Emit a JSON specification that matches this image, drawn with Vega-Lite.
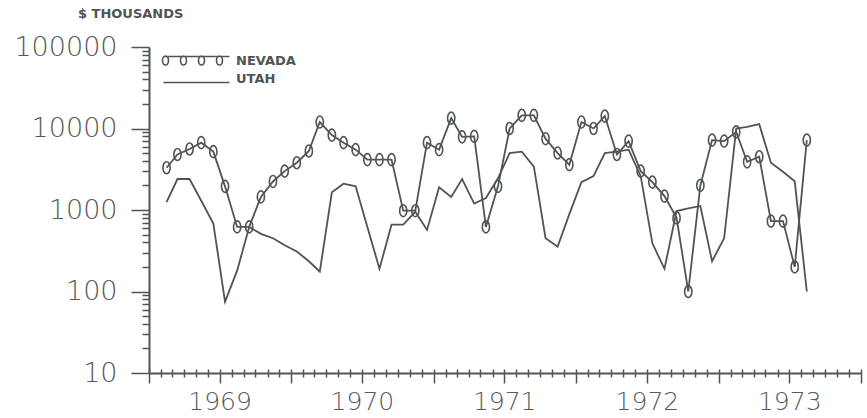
{
  "$schema": "https://vega.github.io/schema/vega-lite/v6.json",
  "width": 712,
  "height": 326,
  "autosize": {"type": "none"},
  "padding": {"left": 149, "top": 47, "right": 6, "bottom": 45},
  "background": "white",
  "config": {"view": {"stroke": null}},
  "title": {"text": "$ THOUSANDS", "anchor": "start", "frame": "group", "dx": -71, "offset": 12, "fontSize": 13, "fontWeight": "bold", "font": "DejaVu Sans", "color": "#4f5454"},
  "data": {"values": [
    {"date": "1969-02-15", "state": "NEVADA", "value": 3300},
    {"date": "1969-03-15", "state": "NEVADA", "value": 4800},
    {"date": "1969-04-15", "state": "NEVADA", "value": 5600},
    {"date": "1969-05-15", "state": "NEVADA", "value": 6700},
    {"date": "1969-06-15", "state": "NEVADA", "value": 5200},
    {"date": "1969-07-15", "state": "NEVADA", "value": 1950},
    {"date": "1969-08-15", "state": "NEVADA", "value": 620},
    {"date": "1969-09-15", "state": "NEVADA", "value": 620},
    {"date": "1969-10-15", "state": "NEVADA", "value": 1450},
    {"date": "1969-11-15", "state": "NEVADA", "value": 2240},
    {"date": "1969-12-15", "state": "NEVADA", "value": 3000},
    {"date": "1970-01-15", "state": "NEVADA", "value": 3800},
    {"date": "1970-02-15", "state": "NEVADA", "value": 5300},
    {"date": "1970-03-15", "state": "NEVADA", "value": 12000},
    {"date": "1970-04-15", "state": "NEVADA", "value": 8300},
    {"date": "1970-05-15", "state": "NEVADA", "value": 6700},
    {"date": "1970-06-15", "state": "NEVADA", "value": 5500},
    {"date": "1970-07-15", "state": "NEVADA", "value": 4150},
    {"date": "1970-08-15", "state": "NEVADA", "value": 4150},
    {"date": "1970-09-15", "state": "NEVADA", "value": 4150},
    {"date": "1970-10-15", "state": "NEVADA", "value": 980},
    {"date": "1970-11-15", "state": "NEVADA", "value": 980},
    {"date": "1970-12-15", "state": "NEVADA", "value": 6700},
    {"date": "1971-01-15", "state": "NEVADA", "value": 5500},
    {"date": "1971-02-15", "state": "NEVADA", "value": 13400},
    {"date": "1971-03-15", "state": "NEVADA", "value": 7900},
    {"date": "1971-04-15", "state": "NEVADA", "value": 8000},
    {"date": "1971-05-15", "state": "NEVADA", "value": 620},
    {"date": "1971-06-15", "state": "NEVADA", "value": 1950},
    {"date": "1971-07-15", "state": "NEVADA", "value": 10000},
    {"date": "1971-08-15", "state": "NEVADA", "value": 14500},
    {"date": "1971-09-15", "state": "NEVADA", "value": 14500},
    {"date": "1971-10-15", "state": "NEVADA", "value": 7500},
    {"date": "1971-11-15", "state": "NEVADA", "value": 5000},
    {"date": "1971-12-15", "state": "NEVADA", "value": 3600},
    {"date": "1972-01-15", "state": "NEVADA", "value": 12000},
    {"date": "1972-02-15", "state": "NEVADA", "value": 10000},
    {"date": "1972-03-15", "state": "NEVADA", "value": 14200},
    {"date": "1972-04-15", "state": "NEVADA", "value": 4800},
    {"date": "1972-05-15", "state": "NEVADA", "value": 7000},
    {"date": "1972-06-15", "state": "NEVADA", "value": 3000},
    {"date": "1972-07-15", "state": "NEVADA", "value": 2200},
    {"date": "1972-08-15", "state": "NEVADA", "value": 1480},
    {"date": "1972-09-15", "state": "NEVADA", "value": 800},
    {"date": "1972-10-15", "state": "NEVADA", "value": 100},
    {"date": "1972-11-15", "state": "NEVADA", "value": 2000},
    {"date": "1972-12-15", "state": "NEVADA", "value": 7200},
    {"date": "1973-01-15", "state": "NEVADA", "value": 7000},
    {"date": "1973-02-15", "state": "NEVADA", "value": 9100},
    {"date": "1973-03-15", "state": "NEVADA", "value": 3900},
    {"date": "1973-04-15", "state": "NEVADA", "value": 4500},
    {"date": "1973-05-15", "state": "NEVADA", "value": 730},
    {"date": "1973-06-15", "state": "NEVADA", "value": 730},
    {"date": "1973-07-15", "state": "NEVADA", "value": 200},
    {"date": "1973-08-15", "state": "NEVADA", "value": 7200},
    {"date": "1969-02-15", "state": "UTAH", "value": 1250},
    {"date": "1969-03-15", "state": "UTAH", "value": 2400},
    {"date": "1969-04-15", "state": "UTAH", "value": 2400},
    {"date": "1969-05-15", "state": "UTAH", "value": 1300},
    {"date": "1969-06-15", "state": "UTAH", "value": 680},
    {"date": "1969-07-15", "state": "UTAH", "value": 75},
    {"date": "1969-08-15", "state": "UTAH", "value": 180},
    {"date": "1969-09-15", "state": "UTAH", "value": 620},
    {"date": "1969-10-15", "state": "UTAH", "value": 510},
    {"date": "1969-11-15", "state": "UTAH", "value": 450},
    {"date": "1969-12-15", "state": "UTAH", "value": 370},
    {"date": "1970-01-15", "state": "UTAH", "value": 310},
    {"date": "1970-02-15", "state": "UTAH", "value": 235},
    {"date": "1970-03-15", "state": "UTAH", "value": 175},
    {"date": "1970-04-15", "state": "UTAH", "value": 1650},
    {"date": "1970-05-15", "state": "UTAH", "value": 2100},
    {"date": "1970-06-15", "state": "UTAH", "value": 1950},
    {"date": "1970-07-15", "state": "UTAH", "value": 620},
    {"date": "1970-08-15", "state": "UTAH", "value": 190},
    {"date": "1970-09-15", "state": "UTAH", "value": 660},
    {"date": "1970-10-15", "state": "UTAH", "value": 660},
    {"date": "1970-11-15", "state": "UTAH", "value": 950},
    {"date": "1970-12-15", "state": "UTAH", "value": 570},
    {"date": "1971-01-15", "state": "UTAH", "value": 1900},
    {"date": "1971-02-15", "state": "UTAH", "value": 1450},
    {"date": "1971-03-15", "state": "UTAH", "value": 2400},
    {"date": "1971-04-15", "state": "UTAH", "value": 1200},
    {"date": "1971-05-15", "state": "UTAH", "value": 1400},
    {"date": "1971-06-15", "state": "UTAH", "value": 2450},
    {"date": "1971-07-15", "state": "UTAH", "value": 5000},
    {"date": "1971-08-15", "state": "UTAH", "value": 5200},
    {"date": "1971-09-15", "state": "UTAH", "value": 3400},
    {"date": "1971-10-15", "state": "UTAH", "value": 450},
    {"date": "1971-11-15", "state": "UTAH", "value": 355},
    {"date": "1971-12-15", "state": "UTAH", "value": 890},
    {"date": "1972-01-15", "state": "UTAH", "value": 2200},
    {"date": "1972-02-15", "state": "UTAH", "value": 2600},
    {"date": "1972-03-15", "state": "UTAH", "value": 5000},
    {"date": "1972-04-15", "state": "UTAH", "value": 5200},
    {"date": "1972-05-15", "state": "UTAH", "value": 5500},
    {"date": "1972-06-15", "state": "UTAH", "value": 2600},
    {"date": "1972-07-15", "state": "UTAH", "value": 390},
    {"date": "1972-08-15", "state": "UTAH", "value": 190},
    {"date": "1972-09-15", "state": "UTAH", "value": 970},
    {"date": "1972-10-15", "state": "UTAH", "value": 1050},
    {"date": "1972-11-15", "state": "UTAH", "value": 1120},
    {"date": "1972-12-15", "state": "UTAH", "value": 235},
    {"date": "1973-01-15", "state": "UTAH", "value": 450},
    {"date": "1973-02-15", "state": "UTAH", "value": 10000},
    {"date": "1973-03-15", "state": "UTAH", "value": 10500},
    {"date": "1973-04-15", "state": "UTAH", "value": 11300},
    {"date": "1973-05-15", "state": "UTAH", "value": 3800},
    {"date": "1973-06-15", "state": "UTAH", "value": 2950},
    {"date": "1973-07-15", "state": "UTAH", "value": 2250},
    {"date": "1973-08-15", "state": "UTAH", "value": 100}
  ]},
  "resolve": {"axis": {"x": "independent", "y": "independent"}},
  "layer": [
    {
      "mark": {"type": "line", "strokeWidth": 1.8, "interpolate": "linear"},
      "encoding": {
        "x": {"field": "date", "type": "temporal",
          "scale": {"type": "utc", "domain": [{"year": 1969, "month": 1, "date": 1, "utc": true}, {"year": 1974, "month": 1, "date": 1, "utc": true}], "nice": false},
          "axis": {"orient": "bottom", "title": null, "grid": false, "ticks": false,
            "tickCount": {"interval": "month", "step": 1},
            "labelExpr": "utcmonth(datum.value) == 6 ? utcFormat(datum.value, '%Y') : ''",
            "domainColor": "#4f5454", "domainWidth": 2,
            "labelFont": "DejaVu Sans", "labelFontSize": 25, "labelFontWeight": 200, "labelColor": "#555a5a",
            "labelPadding": 16, "labelOverlap": false, "labelFlush": false}},
        "y": {"field": "value", "type": "quantitative",
          "scale": {"type": "log", "domain": [10, 100000], "nice": false},
          "axis": {"title": null, "grid": false,
            "values": [10, 20, 30, 40, 50, 60, 70, 80, 90, 100, 200, 300, 400, 500, 600, 700, 800, 900, 1000, 2000, 3000, 4000, 5000, 6000, 7000, 8000, 9000, 10000, 20000, 30000, 40000, 50000, 60000, 70000, 80000, 90000, 100000],
            "labelExpr": "(datum.value == 10 || datum.value == 100 || datum.value == 1000 || datum.value == 10000 || datum.value == 100000) ? format(datum.value, 'd') : ''",
            "tickSize": {"condition": {"test": "datum.value == 10 || datum.value == 100 || datum.value == 1000 || datum.value == 10000 || datum.value == 100000", "value": 18}, "value": 7},
            "tickWidth": 1.5, "tickColor": "#4f5454",
            "domainColor": "#4f5454", "domainWidth": 2,
            "labelFont": "DejaVu Sans", "labelFontSize": 27, "labelFontWeight": 200, "labelColor": "#555a5a",
            "labelPadding": 14, "labelOverlap": false, "labelFlush": false}},
        "color": {"field": "state", "type": "nominal",
          "scale": {"domain": ["NEVADA", "UTAH"], "range": ["#4f5454", "#4f5454"]},
          "legend": {"title": null, "orient": "none", "legendX": 13, "legendY": 7, "padding": 0,
            "labelFont": "DejaVu Sans", "labelFontSize": 13, "labelFontWeight": "bold", "labelColor": "#4f5454",
            "labelOffset": 61, "rowPadding": 3,
            "encode": {"symbols": {"update": {
              "shape": {"signal": "datum.value === 'NEVADA' ? 'M-1,-0.8 L12.2,-0.8 M-0.6,-0.9 C-0.269,-0.9 0,-0.497 0,0 C0,0.497 -0.269,0.9 -0.6,0.9 C-0.931,0.9 -1.2,0.497 -1.2,0 C-1.2,-0.497 -0.931,-0.9 -0.6,-0.9 Z M3,-0.9 C3.331,-0.9 3.6,-0.497 3.6,0 C3.6,0.497 3.331,0.9 3,0.9 C2.669,0.9 2.4,0.497 2.4,0 C2.4,-0.497 2.669,-0.9 3,-0.9 Z M6.6,-0.9 C6.931,-0.9 7.2,-0.497 7.2,0 C7.2,0.497 6.931,0.9 6.6,0.9 C6.269,0.9 6,0.497 6,0 C6,-0.497 6.269,-0.9 6.6,-0.9 Z M10.2,-0.9 C10.531,-0.9 10.8,-0.497 10.8,0 C10.8,0.497 10.531,0.9 10.2,0.9 C9.869,0.9 9.6,0.497 9.6,0 C9.6,-0.497 9.869,-0.9 10.2,-0.9 Z' : 'M-1,0.8 L12.2,0.8'"},
              "size": {"value": 100},
              "fill": {"value": "transparent"},
              "stroke": {"value": "#4f5454"},
              "strokeWidth": {"value": 1.6},
              "opacity": {"value": 1}
            }}}}}
      }
    },
    {
      "transform": [{"filter": "datum.state === 'NEVADA'"}],
      "mark": {"type": "point", "filled": false, "size": 144, "strokeWidth": 1.6, "color": "#4f5454", "opacity": 1,
        "shape": "M0,-1 C0.331,-1 0.6,-0.552 0.6,0 C0.6,0.552 0.331,1 0,1 C-0.331,1 -0.6,0.552 -0.6,0 C-0.6,-0.552 -0.331,-1 0,-1 Z"},
      "encoding": {
        "x": {"field": "date", "type": "temporal",
          "axis": {"orient": "bottom", "title": null, "grid": false, "labels": false, "domain": false, "offset": -4,
            "tickCount": {"interval": "month", "step": 1},
            "tickSize": {"condition": {"test": "utcmonth(datum.value) == 0 || utcmonth(datum.value) == 6", "value": 14}, "value": 8},
            "tickWidth": 1.5, "tickColor": "#4f5454"}},
        "y": {"field": "value", "type": "quantitative", "axis": null}
      }
    }
  ]
}
